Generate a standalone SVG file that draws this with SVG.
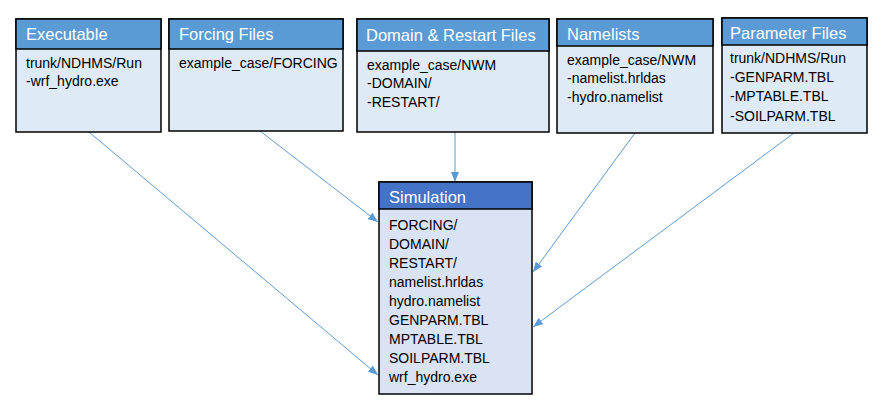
<svg xmlns="http://www.w3.org/2000/svg" width="885" height="412" viewBox="0 0 885 412">
<style>
.box{fill:#DEEBF7;stroke:#000;stroke-width:1.5}
.hdr{fill:#5B9BD5;stroke:#000;stroke-width:1.5}
.shdr{fill:#4472C4;stroke:#000;stroke-width:1.5}
.sbox{fill:#DAE3F3;stroke:#000;stroke-width:1.5}
.ht{font-family:"Liberation Sans",Arial,sans-serif;font-size:16.5px;fill:#fff}
.bt{font-family:"Liberation Sans",Arial,sans-serif;font-size:14px;fill:#000}
.conn{stroke:#5B9BD5;stroke-width:1;fill:none;marker-end:url(#ah)}
</style>
<defs>
<marker id="ah" markerUnits="userSpaceOnUse" markerWidth="10" markerHeight="8" refX="10" refY="4" orient="auto">
<path d="M0,0 L10,4 L0,8 Z" fill="#5B9BD5"/>
</marker>
</defs>
<rect width="885" height="412" fill="#fff"/>
<g id="connectors">
<line class="conn" x1="89" y1="132" x2="378" y2="375"/>
<line class="conn" x1="260" y1="131" x2="378" y2="222"/>
<line class="conn" x1="455" y1="132" x2="455" y2="182"/>
<line class="conn" x1="635" y1="133" x2="533" y2="272"/>
<line class="conn" x1="794" y1="133" x2="533" y2="327"/>
</g>
<g id="executable">
<rect class="box" x="16" y="19" width="145" height="113"/>
<rect class="hdr" x="16" y="19" width="145" height="30"/>
<text class="ht" x="26" y="40">Executable</text>
<text class="bt" x="26" y="68">trunk/NDHMS/Run</text>
<text class="bt" x="26" y="86">-wrf_hydro.exe</text>
</g>
<g id="forcing">
<rect class="box" x="169" y="19" width="174" height="112"/>
<rect class="hdr" x="169" y="19" width="174" height="30"/>
<text class="ht" x="179" y="40">Forcing Files</text>
<text class="bt" x="179" y="68">example_case/FORCING</text>
</g>
<g id="domain">
<rect class="box" x="357" y="19" width="192" height="113"/>
<rect class="hdr" x="357" y="19" width="192" height="32"/>
<text class="ht" x="366" y="41">Domain &amp; Restart Files</text>
<text class="bt" x="367" y="70">example_case/NWM</text>
<text class="bt" x="367" y="88">-DOMAIN/</text>
<text class="bt" x="367" y="107">-RESTART/</text>
</g>
<g id="namelists">
<rect class="box" x="557" y="19" width="156" height="114"/>
<rect class="hdr" x="557" y="19" width="156" height="27"/>
<text class="ht" x="567" y="40">Namelists</text>
<text class="bt" x="567" y="65">example_case/NWM</text>
<text class="bt" x="567" y="83">-namelist.hrldas</text>
<text class="bt" x="567" y="102">-hydro.namelist</text>
</g>
<g id="parameter">
<rect class="box" x="722" y="18" width="145" height="115"/>
<rect class="hdr" x="722" y="18" width="145" height="27"/>
<text class="ht" x="730" y="39">Parameter Files</text>
<text class="bt" x="730" y="63">trunk/NDHMS/Run</text>
<text class="bt" x="730" y="82">-GENPARM.TBL</text>
<text class="bt" x="730" y="101">-MPTABLE.TBL</text>
<text class="bt" x="730" y="121">-SOILPARM.TBL</text>
</g>
<g id="simulation">
<rect class="sbox" x="379" y="182" width="153" height="212"/>
<rect class="shdr" x="379" y="182" width="153" height="27"/>
<text class="ht" x="389" y="203">Simulation</text>
<text class="bt" x="389" y="230">FORCING/</text>
<text class="bt" x="389" y="249">DOMAIN/</text>
<text class="bt" x="389" y="268">RESTART/</text>
<text class="bt" x="389" y="287">namelist.hrldas</text>
<text class="bt" x="389" y="306">hydro.namelist</text>
<text class="bt" x="389" y="325">GENPARM.TBL</text>
<text class="bt" x="389" y="344">MPTABLE.TBL</text>
<text class="bt" x="389" y="363">SOILPARM.TBL</text>
<text class="bt" x="389" y="382">wrf_hydro.exe</text>
</g>
</svg>
